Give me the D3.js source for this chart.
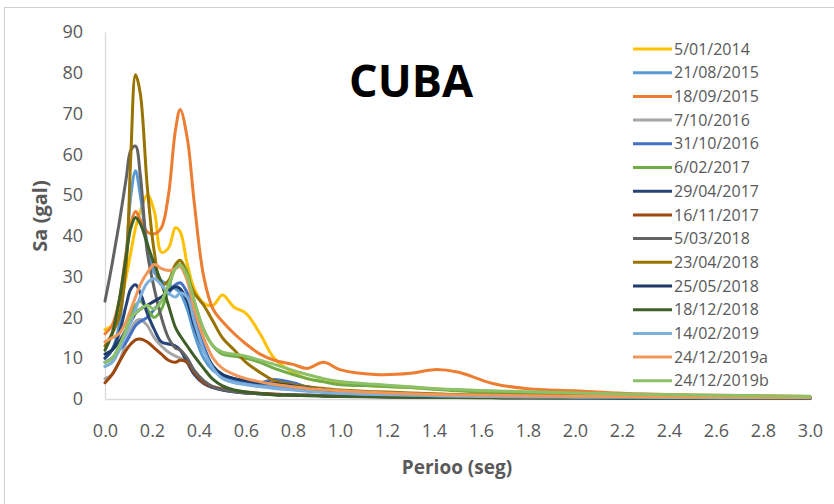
<!DOCTYPE html>
<html>
<head>
<meta charset="utf-8">
<script src="https://cdn.jsdelivr.net/npm/d3@7"></script>
<style>
  html, body { margin: 0; padding: 0; background: #fff; }
  svg { display: block; }
</style>
</head>
<body>
<svg id="chart" width="834" height="504"></svg>
<script>
// Response spectra, Cuba stations: period (s) vs spectral acceleration (gal)
const periods = [0, 0.03, 0.06, 0.09, 0.11, 0.13, 0.15, 0.18, 0.21, 0.24, 0.27, 0.30, 0.32, 0.35, 0.38, 0.42, 0.46, 0.50, 0.55, 0.60, 0.66, 0.72, 0.80, 0.86, 0.93, 1.00, 1.15, 1.30, 1.40, 1.50, 1.65, 1.80, 2.00, 2.20, 2.50, 2.80, 3.00];

const eventLabels = ["5/01/2014", "21/08/2015", "18/09/2015", "7/10/2016", "31/10/2016", "6/02/2017", "29/04/2017", "16/11/2017", "5/03/2018", "23/04/2018", "25/05/2018", "18/12/2018", "14/02/2019", "24/12/2019a", "24/12/2019b"];

const sa20140105 = [17, 18, 22, 30, 36, 42, 46, 50, 46, 36, 37, 42, 41, 33, 27, 23.5, 23, 25.5, 22.5, 21, 16, 10, 6.5, 5, 4.3, 3.8, 3.2, 2.8, 2.5, 2.2, 1.8, 1.5, 1.2, 1.0, 0.8, 0.6, 0.5];
const sa20150821 = [10, 12, 18, 35, 50, 56, 50, 38, 31, 29, 28, 27, 26, 22, 16, 10, 7, 5.5, 4.5, 4, 3.5, 3, 2.5, 2.2, 1.9, 1.6, 1.2, 1, 0.9, 0.8, 0.7, 0.6, 0.5, 0.4, 0.35, 0.3, 0.3];
const sa20150918 = [16, 18, 24, 36, 43, 46, 44, 41, 40.5, 42, 50, 66, 71, 64, 48, 30, 22, 19, 16, 13.5, 11, 9.5, 8.5, 7.5, 9, 7.2, 6, 6.3, 7.2, 6.6, 3.8, 2.5, 2, 1.4, 1, 0.8, 0.6];
const sa20161007 = [5, 6, 9, 14, 17, 19, 19.5, 18, 15, 13, 11.5, 10.5, 10, 9, 6.5, 4, 2.8, 2.2, 1.8, 1.5, 1.3, 1.1, 1, 0.9, 0.8, 0.7, 0.6, 0.5, 0.45, 0.4, 0.35, 0.3, 0.3, 0.25, 0.2, 0.2, 0.2];
const sa20161031 = [9, 10, 12, 14, 16, 18, 19, 20, 22, 24, 26, 28, 28.5, 26, 20, 13, 8, 6, 5, 4.5, 4, 4.8, 4, 3, 2.2, 1.8, 1.3, 1, 0.9, 0.8, 0.7, 0.6, 0.5, 0.45, 0.4, 0.35, 0.3];
const sa20170206 = [8, 9, 12, 17, 21, 23, 24, 22, 20, 22, 27, 32.5, 34, 31, 24, 17, 13, 11, 10.5, 10, 9, 7.5, 6, 5, 4.2, 3.5, 3.2, 2.8, 2.4, 2, 1.6, 1.4, 1.2, 1, 0.8, 0.6, 0.5];
const sa20170429 = [10, 12, 16, 23, 27, 28, 26, 21, 17, 14, 13.5, 13, 12, 9, 6, 3.8, 2.8, 2.2, 1.8, 1.5, 1.3, 1.1, 1, 0.9, 0.8, 0.7, 0.6, 0.5, 0.45, 0.4, 0.35, 0.3, 0.3, 0.25, 0.2, 0.2, 0.2];
const sa20171116 = [4, 6, 9, 12, 13.5, 14.5, 14.7, 14, 12.5, 11, 9.5, 9, 9.5, 9, 6.5, 4, 3, 2.5, 2, 1.7, 1.4, 1.2, 1, 0.9, 0.8, 0.7, 0.6, 0.5, 0.45, 0.4, 0.35, 0.3, 0.3, 0.25, 0.2, 0.2, 0.2];
const sa20180305 = [24, 33, 43, 54, 61, 62, 55, 36, 27, 20, 15, 12.5, 12, 10, 7, 4.5, 3, 2.3, 1.8, 1.5, 1.3, 1.1, 1, 0.9, 0.8, 0.7, 0.6, 0.5, 0.45, 0.4, 0.35, 0.3, 0.3, 0.25, 0.2, 0.2, 0.2];
const sa20180423 = [13, 16, 20, 33, 60, 79.5, 75, 52, 36, 28, 29, 33, 34, 30, 26, 23, 19, 15, 12, 9, 6.5, 4.5, 3.5, 3, 2.6, 2.2, 1.8, 1.5, 1.3, 1.1, 1, 0.9, 0.8, 0.7, 0.6, 0.5, 0.4];
const sa20180525 = [11, 12, 14, 17, 19, 21, 22, 23, 24, 25, 26.5, 27.5, 27, 24, 18, 12, 8, 6, 5, 4.5, 4, 3.8, 3.2, 2.7, 2.2, 1.8, 1.3, 1, 0.9, 0.8, 0.7, 0.6, 0.5, 0.45, 0.4, 0.35, 0.3];
const sa20181218 = [12, 16, 24, 35, 42, 44.5, 43, 38, 33, 28.5, 23, 17.5, 15.5, 13, 10.5, 7.5, 4.8, 3.2, 2.2, 1.7, 1.3, 1, 0.9, 0.8, 0.7, 0.6, 0.5, 0.45, 0.4, 0.35, 0.3, 0.3, 0.25, 0.2, 0.2, 0.2, 0.2];
const sa20190214 = [8, 9, 12, 16, 19, 22, 25, 28.5, 29.5, 28, 26, 25, 26, 25, 19, 12, 7.5, 5, 4, 3.5, 3, 2.6, 2.2, 1.9, 1.6, 1.4, 1.1, 0.9, 0.8, 0.7, 0.6, 0.5, 0.45, 0.4, 0.35, 0.3, 0.3];
const sa20191224a = [14, 15, 16, 19, 22, 25, 28, 31, 33, 32, 31.5, 32, 32.5, 29, 22, 15, 10, 7.5, 6, 5, 4.2, 3.6, 3, 2.6, 2.3, 2, 1.6, 1.3, 1.1, 1, 0.9, 0.8, 0.7, 0.6, 0.5, 0.4, 0.4];
const sa20191224b = [9, 10, 13, 17, 20, 21, 22, 23, 22, 24, 28, 32, 33, 30, 24, 17, 13, 11.5, 11, 10.5, 9.5, 8.5, 7, 6, 5, 4.3, 3.6, 3, 2.6, 2.3, 2, 1.8, 1.5, 1.2, 1, 0.8, 0.7];

const seriesValues = [sa20140105, sa20150821, sa20150918, sa20161007, sa20161031, sa20170206, sa20170429, sa20171116, sa20180305, sa20180423, sa20180525, sa20181218, sa20190214, sa20191224a, sa20191224b];

const xTicks = [0, 0.2, 0.4, 0.6, 0.8, 1.0, 1.2, 1.4, 1.6, 1.8, 2.0, 2.2, 2.4, 2.6, 2.8, 3.0];
const yTicks = [0, 10, 20, 30, 40, 50, 60, 70, 80, 90];

const palette = ["#FFC000", "#5B9BD5", "#ED7D31", "#A5A5A5", "#4472C4", "#70AD47", "#264478", "#9E480E", "#636363", "#997300", "#1F3A68", "#3E5F28", "#7CAFDD", "#F1975A", "#8CC168"];

const svg = d3.select("#chart");
const textGray = "#595959";
const font = "'Open Sans', 'DejaVu Sans', sans-serif";

// outer chart frame
svg.append("rect")
  .attr("x", 4.5).attr("y", 7.5)
  .attr("width", 840).attr("height", 510)
  .attr("fill", "#fff")
  .attr("stroke", "#d0d0d0").attr("stroke-width", 1);

const x = d3.scaleLinear().domain([0, 3]).range([105, 810]);
const y = d3.scaleLinear().domain([0, 90]).range([399, 32]);

// axes: plain light lines, labels only
const xAxis = d3.axisBottom(x).tickValues(xTicks).tickFormat(d3.format(".1f")).tickSize(0).tickPadding(25);
const yAxis = d3.axisLeft(y).tickValues(yTicks).tickFormat(d3.format("d")).tickSize(0).tickPadding(22);

const gx = svg.append("g").attr("transform", `translate(0,${y(0)})`).call(xAxis);
const gy = svg.append("g").attr("transform", `translate(${x(0)},0)`).call(yAxis);
[gx, gy].forEach(g => {
  g.select(".domain").attr("stroke", "#d9d9d9").attr("stroke-width", 1.3);
  g.selectAll("text").attr("fill", textGray).style("font-family", font).style("font-size", "18px");
});

// spectra
const line = d3.line()
  .x((d, i) => x(periods[i]))
  .y(d => y(d))
  .curve(d3.curveCatmullRom.alpha(0.5));

svg.append("g")
  .selectAll("path")
  .data(seriesValues)
  .join("path")
  .attr("d", d => line(d))
  .attr("fill", "none")
  .attr("stroke", (d, i) => palette[i])
  .attr("stroke-width", 3)
  .attr("stroke-linejoin", "round")
  .attr("stroke-linecap", "round");

// title
svg.append("text")
  .attr("x", 411).attr("y", 97)
  .attr("text-anchor", "middle")
  .style("font-family", font).style("font-weight", 700).style("font-size", "45px")
  .attr("fill", "#000")
  .text("CUBA");

// axis titles
svg.append("text")
  .attr("transform", "translate(47,216) rotate(-90)")
  .attr("text-anchor", "middle")
  .style("font-family", font).style("font-weight", 700).style("font-size", "20px")
  .attr("fill", textGray)
  .text("Sa (gal)");

svg.append("text")
  .attr("x", 457).attr("y", 474)
  .attr("text-anchor", "middle")
  .style("font-family", font).style("font-weight", 700).style("font-size", "19px")
  .attr("fill", textGray)
  .text("Perioo (seg)");

// legend
const legend = svg.append("g");
const rows = legend.selectAll("g")
  .data(eventLabels)
  .join("g")
  .attr("transform", (d, i) => `translate(633,${49 + i * 23.7})`);
rows.append("line")
  .attr("x1", 0).attr("x2", 39)
  .attr("stroke", (d, i) => palette[i])
  .attr("stroke-width", 3);
rows.append("text")
  .attr("x", 41).attr("dy", "0.35em")
  .style("font-family", font).style("font-size", "16px")
  .attr("fill", textGray)
  .text(d => d);
</script>
</body>
</html>
